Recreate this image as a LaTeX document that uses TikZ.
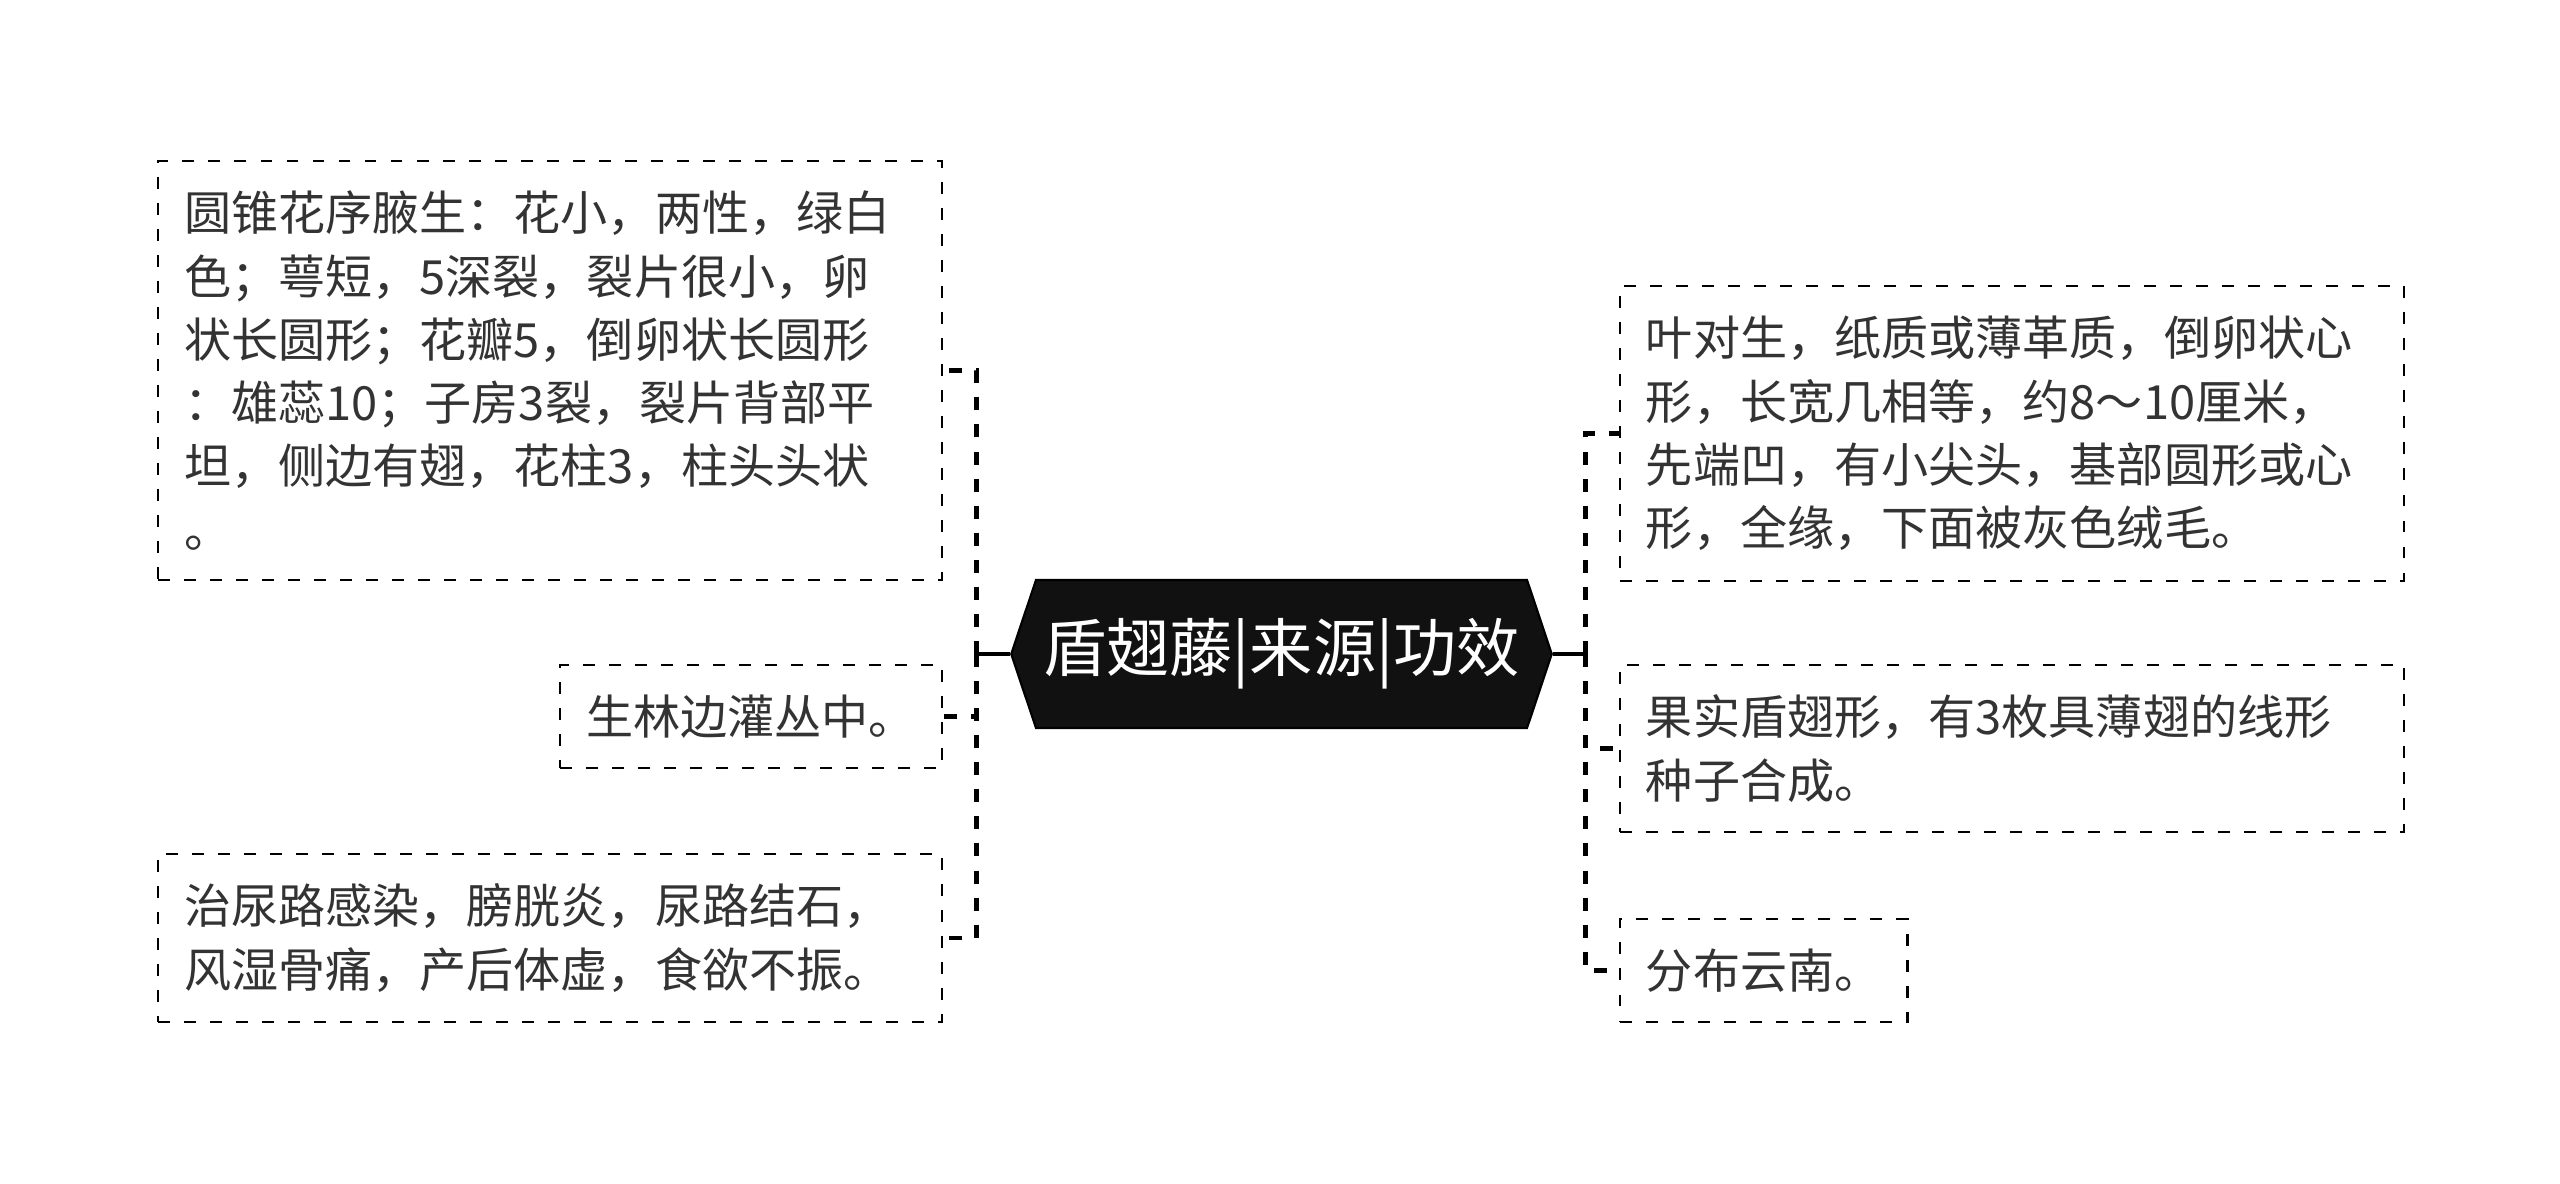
\documentclass[tikz,border=0pt]{standalone}
\usepackage{fontspec}
\newfontfamily\cjk{Noto Sans CJK SC}
\usetikzlibrary{positioning,shapes.symbols}
\definecolor{ink}{HTML}{333333}
\definecolor{rootfill}{HTML}{111111}

\begin{document}
\begin{tikzpicture}[
  font=\cjk\fontsize{13.4pt}{18pt}\selectfont\color{ink},
  root/.style={signal, signal to=west and east, signal pointer angle=143,
               draw=black, fill=rootfill, line width=0.6pt, text=white,
               minimum width=5.39cm, minimum height=1.48cm, inner sep=2pt,
               font=\cjk\fontsize{18pt}{22pt}\selectfont},
  leaf/.style={draw=black, line width=0.6pt, dash pattern=on 3.4pt off 4pt,
               align=left, inner xsep=0.26cm, inner ysep=0.3cm},
  wide/.style={leaf, text width=7.32cm},
  stem/.style={draw=black, line width=1.1pt},
  link/.style={draw=black, line width=1.4pt, dash pattern=on 3.7pt off 4pt},
]
\useasboundingbox (0,0) rectangle (25.6,-11.84);

% ---- Root -------------------------------------------------------------------
\node[root] (root) at (12.815,-6.54) {盾翅藤|来源|功效};

% ---- Left branch ------------------------------------------------------------
\node[wide, left=0.67cm of root, yshift=2.835cm] (flower) {%
  圆锥花序腋生：花小，两性，绿白\\
  色；萼短，5深裂，裂片很小，卵\\
  状长圆形；花瓣5，倒卵状长圆形\\
  ：雄蕊10；子房3裂，裂片背部平\\
  坦，侧边有翅，花柱3，柱头头状\\
  。};
\node[leaf, left=0.67cm of root, yshift=-0.625cm] (habitat) {生林边灌丛中。};
\node[wide, left=0.67cm of root, yshift=-2.84cm] (usage) {%
  治尿路感染，膀胱炎，尿路结石，\\
  风湿骨痛，产后体虚，食欲不振。};

% ---- Right branch -----------------------------------------------------------
\node[wide, right=0.66cm of root, yshift=2.205cm] (leafdesc) {%
  叶对生，纸质或薄革质，倒卵状心\\
  形，长宽几相等，约8～10厘米，\\
  先端凹，有小尖头，基部圆形或心\\
  形，全缘，下面被灰色绒毛。};
\node[wide, right=0.66cm of root, yshift=-0.945cm] (fruit) {%
  果实盾翅形，有3枚具薄翅的线形\\
  种子合成。};
\node[leaf, right=0.66cm of root, yshift=-3.165cm] (range) {分布云南。};

% ---- Connectors -------------------------------------------------------------
\coordinate (lfork) at ([xshift=-3.4mm]root.west);
\coordinate (rfork) at ([xshift=3.3mm]root.east);
\draw[stem] (root.west) -- (lfork);
\draw[stem] (root.east) -- (rfork);
\draw[link] (lfork) |- (flower.east);
\draw[link] (lfork) |- (habitat.east);
\draw[link] (lfork) |- (usage.east);
\draw[link] (rfork) |- (leafdesc.west);
\draw[link] (rfork) |- (fruit.west);
\draw[link] (rfork) |- (range.west);

\end{tikzpicture}
\end{document}
